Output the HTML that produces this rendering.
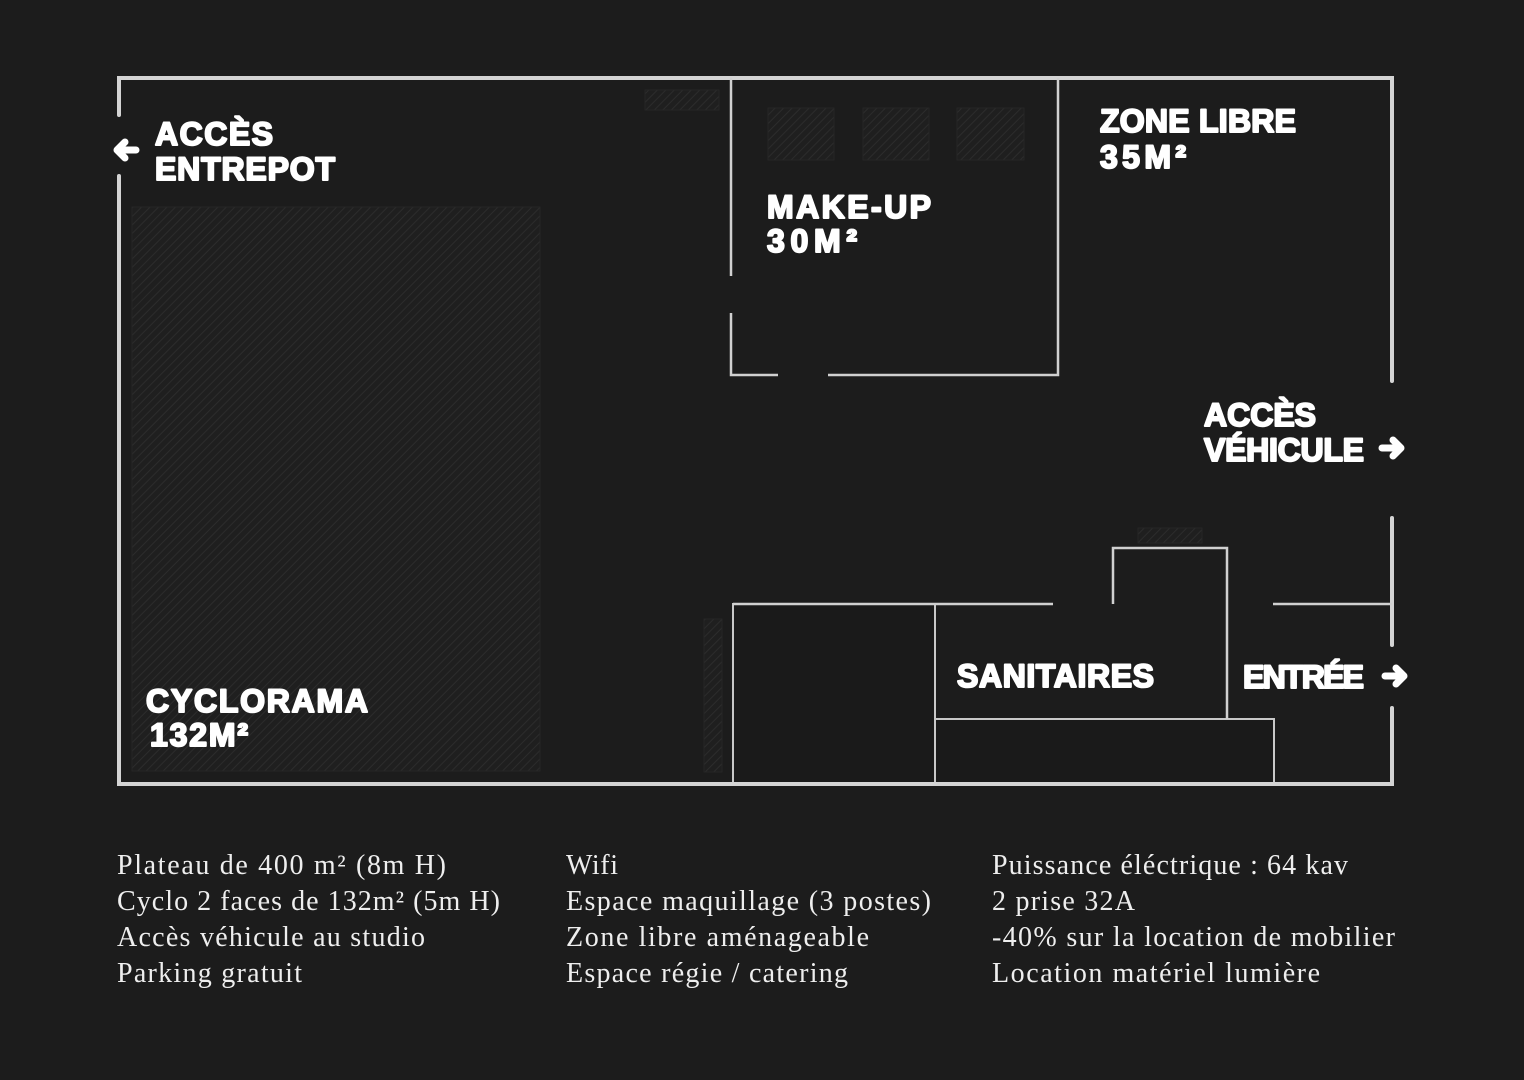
<!DOCTYPE html>
<html><head><meta charset="utf-8"><style>
html,body{margin:0;padding:0;background:#1c1c1c;}
svg{display:block}
.l{font-family:"Liberation Sans",sans-serif;font-weight:bold;fill:#fff;font-size:32px;stroke:#fff;stroke-width:2;stroke-linejoin:round}
.t{font-family:"Liberation Serif",serif;fill:#eee;font-size:28px}
</style></head><body>
<svg width="1524" height="1080" viewBox="0 0 1524 1080" xmlns="http://www.w3.org/2000/svg">
<defs><pattern id="h" width="6" height="6" patternUnits="userSpaceOnUse" patternTransform="rotate(45)"><rect width="6" height="6" fill="#1f1f1f"/><line x1="0" y1="0" x2="0" y2="6" stroke="#2c2c2c" stroke-width="2"/></pattern>
<g id="ar"><path d="M-10 0 H8 M1 -8 L9 0 L1 8" stroke="#fff" stroke-width="7" fill="none" stroke-linecap="round" stroke-linejoin="round"/></g></defs>
<rect width="1524" height="1080" fill="#1c1c1c"/>
<g fill="url(#h)" stroke="#262626" stroke-width="1">
<rect x="132" y="207" width="408" height="564"/>
<rect x="645" y="90" width="74" height="20"/>
<rect x="768" y="108" width="66" height="52"/>
<rect x="863" y="108" width="66" height="52"/>
<rect x="957" y="108" width="67" height="52"/>
<rect x="1138" y="528" width="64" height="15"/>
<rect x="704" y="619" width="18" height="153"/>
</g>
<g fill="#1a1a1a" stroke="#c8c8c8" stroke-width="2">
<rect x="733" y="604" width="202" height="180"/>
<rect x="935" y="719" width="339" height="65"/>
</g>
<g stroke="#d4d4d4" stroke-width="4" fill="none" stroke-linecap="round">
<path d="M119 115 V78 H1392 V381"/>
<path d="M119 176 V784 H1392 V708"/>
<path d="M1392 518 V645"/>
</g>
<g stroke="#d0d0d0" stroke-width="2.5" fill="none">
<path d="M731 78 V276"/><path d="M731 313 V375 H778"/><path d="M828 375 H1058 V78"/>
<path d="M733 604 H1053"/><path d="M1113 604 V548 H1227 V719"/>
<path d="M1273 604 H1392"/>
</g>
<use href="#ar" transform="translate(126 150) scale(-1 1)"/>
<use href="#ar" transform="translate(1392 448)"/>
<use href="#ar" transform="translate(1395 676)"/>
<text class="l" x="155" y="145" textLength="118">ACCÈS</text>
<text class="l" x="155" y="180" textLength="180">ENTREPOT</text>
<text class="l" x="767" y="218" textLength="164">MAKE-UP</text>
<text class="l" x="767" y="252" textLength="90">30M²</text>
<text class="l" x="1100" y="132" textLength="196">ZONE LIBRE</text>
<text class="l" x="1100" y="168" textLength="86">35M²</text>
<text class="l" x="1204" y="426" textLength="112">ACCÈS</text>
<text class="l" x="1204" y="461" textLength="160">VÉHICULE</text>
<text class="l" x="957" y="687" textLength="197">SANITAIRES</text>
<text class="l" x="1243" y="688" textLength="121">ENTRÉE</text>
<text class="l" x="146" y="712" textLength="222">CYCLORAMA</text>
<text class="l" x="150" y="746" textLength="98">132M²</text>
<g class="t">
<text x="117" y="874" textLength="329">Plateau de 400 m²  (8m H)</text>
<text x="117" y="910" textLength="383">Cyclo 2 faces de 132m² (5m H)</text>
<text x="117" y="946" textLength="308">Accès véhicule au studio</text>
<text x="117" y="982" textLength="185">Parking gratuit</text>
<text x="566" y="874" textLength="52">Wifi</text>
<text x="566" y="910" textLength="365">Espace maquillage (3 postes)</text>
<text x="566" y="946" textLength="303">Zone libre aménageable</text>
<text x="566" y="982" textLength="282">Espace régie / catering</text>
<text x="992" y="874" textLength="356">Puissance éléctrique : 64 kav</text>
<text x="992" y="910" textLength="143">2 prise 32A</text>
<text x="992" y="946" textLength="403">-40% sur la location de mobilier</text>
<text x="992" y="982" textLength="328">Location matériel lumière</text>
</g>
</svg>
</body></html>
